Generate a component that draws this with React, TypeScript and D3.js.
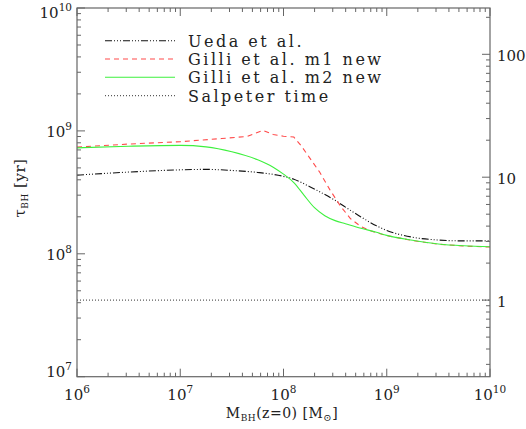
import React from "react";
import * as d3 from "d3";

// Black-hole growth time versus present-day black-hole mass.
// Values are stored as log10(M_BH / M_sun) and log10(tau_BH / yr).

const uedaLogM = [6.0, 6.5, 7.0, 7.25, 7.5, 7.75, 8.0, 8.1, 8.25, 8.35, 8.5, 8.6, 8.75, 8.9, 9.0, 9.25, 9.5, 9.75, 10.0];
const uedaLogTau = [8.64, 8.665, 8.683, 8.687, 8.678, 8.662, 8.63, 8.607, 8.548, 8.505, 8.435, 8.38, 8.3, 8.228, 8.19, 8.135, 8.112, 8.105, 8.105];

const gilliM1LogM = [6.0, 6.5, 7.0, 7.4, 7.65, 7.8, 7.9, 8.0, 8.1, 8.17, 8.25, 8.35, 8.45, 8.55, 8.65, 8.75, 8.85, 9.0, 9.25, 9.5, 9.75, 10.0];
const gilliM1LogTau = [8.868, 8.893, 8.912, 8.938, 8.955, 9.005, 8.97, 8.957, 8.95, 8.88, 8.785, 8.665, 8.52, 8.39, 8.285, 8.222, 8.185, 8.148, 8.108, 8.078, 8.063, 8.055];

const gilliM2LogM = [6.0, 6.5, 7.0, 7.25, 7.5, 7.75, 7.9, 8.0, 8.1, 8.2, 8.3, 8.4, 8.5, 8.6, 8.75, 8.9, 9.0, 9.25, 9.5, 9.75, 10.0];
const gilliM2LogTau = [8.862, 8.875, 8.882, 8.87, 8.83, 8.765, 8.705, 8.648, 8.58, 8.475, 8.375, 8.31, 8.27, 8.245, 8.208, 8.175, 8.15, 8.11, 8.08, 8.065, 8.057];

// Salpeter e-folding time in years
const salpeterTime = 4.2e7;

const xDomain = [1e6, 1e10];
const yDomain = [1e7, 1e10];
const xTickExponents = [6, 7, 8, 9, 10];
const yTickExponents = [7, 8, 9, 10];
const rightTickLabels = ["1", "10", "100"];
const legendLabels = ["Ueda et al.", "Gilli et al. m1 new", "Gilli et al. m2 new", "Salpeter time"];

const W = 526;
const H = 429;
const L = 77;
const R = 490;
const T = 8;
const B = 376.7;

const AXIS = "#666";
const INK = "#222";
const SERIF = "'DejaVu Serif', serif";

const x = d3.scaleLog().domain(xDomain).range([L, R]);
const y = d3.scaleLog().domain(yDomain).range([B, T]);
const yRight = d3
  .scaleLog()
  .domain([yDomain[0] / salpeterTime, yDomain[1] / salpeterTime])
  .range([B, T]);

type Series = {
  name: string;
  logM: number[];
  logTau: number[];
  color: string;
  dash: string;
  curve: d3.CurveFactory;
};

const series: Series[] = [
  { name: legendLabels[0], logM: uedaLogM, logTau: uedaLogTau, color: "#111", dash: "7,2,1,2,1,2,1,2", curve: d3.curveMonotoneX },
  { name: legendLabels[1], logM: gilliM1LogM, logTau: gilliM1LogTau, color: "#ff4a4a", dash: "5,4", curve: d3.curveLinear },
  { name: legendLabels[2], logM: gilliM2LogM, logTau: gilliM2LogTau, color: "#3ef03e", dash: "none", curve: d3.curveMonotoneX },
];

const isDecade = (v: number) => Math.abs(Math.log10(v) - Math.round(Math.log10(v))) < 1e-6;

function minorTicks(lo: number, hi: number): number[] {
  const out: number[] = [];
  for (let e = Math.floor(Math.log10(lo)); e <= Math.ceil(Math.log10(hi)); e++) {
    for (let k = 1; k <= 9; k++) {
      const v = k * Math.pow(10, e);
      if (v >= lo * 0.9999 && v <= hi * 1.0001) out.push(v);
    }
  }
  return out;
}

function Pow({ exp, ...rest }: { exp: number } & React.SVGProps<SVGTextElement>) {
  return (
    <text {...rest} fontFamily={SERIF} fill={INK} fontSize={15}>
      <tspan>10</tspan>
      <tspan fontSize={10.5} dy={-7}>
        {exp}
      </tspan>
    </text>
  );
}

export default function App() {
  const xTicks = minorTicks(xDomain[0], xDomain[1]);
  const yTicks = minorTicks(yDomain[0], yDomain[1]);
  const rTicks = minorTicks(yRight.domain()[0], yRight.domain()[1]);

  const salY = y(salpeterTime);
  const legendY = [40.7, 59, 77.3, 95.7];

  return (
    <svg
      width={W}
      height={H}
      style={{ position: "absolute", left: 0, top: 0, background: "#fff" }}
    >
      {/* data curves */}
      {series.map((s) => {
        const pts = s.logM.map((m, i) => [Math.pow(10, m), Math.pow(10, s.logTau[i])] as [number, number]);
        const path = d3
          .line<[number, number]>()
          .x((d) => x(d[0]))
          .y((d) => y(d[1]))
          .curve(s.curve)(pts);
        return (
          <path
            key={s.name}
            d={path ?? ""}
            fill="none"
            stroke={s.color}
            strokeWidth={1.1}
            strokeDasharray={s.dash}
          />
        );
      })}
      <line x1={L} x2={R} y1={salY} y2={salY} stroke="#333" strokeWidth={1} strokeDasharray="1,2" />

      {/* frame */}
      <rect x={L} y={T} width={R - L} height={B - T} fill="none" stroke={AXIS} strokeWidth={1.2} />

      {/* bottom and top ticks */}
      {xTicks.map((v, i) => {
        const len = isDecade(v) ? 8 : 4;
        const px = x(v);
        return (
          <g key={"x" + i} stroke={AXIS} strokeWidth={1}>
            <line x1={px} x2={px} y1={B} y2={B - len} />
            <line x1={px} x2={px} y1={T} y2={T + len} />
          </g>
        );
      })}
      {/* left ticks */}
      {yTicks.map((v, i) => {
        const len = isDecade(v) ? 8 : 4;
        const py = y(v);
        return <line key={"y" + i} x1={L} x2={L + len} y1={py} y2={py} stroke={AXIS} strokeWidth={1} />;
      })}
      {/* right ticks, in units of the Salpeter time */}
      {rTicks.map((v, i) => {
        const len = isDecade(v) ? 8 : 4;
        const py = yRight(v);
        return <line key={"r" + i} x1={R} x2={R - len} y1={py} y2={py} stroke={AXIS} strokeWidth={1} />;
      })}

      {/* tick labels */}
      {xTickExponents.map((e) => (
        <Pow key={"xl" + e} exp={e} x={x(Math.pow(10, e))} y={400} textAnchor="middle" />
      ))}
      {yTickExponents.map((e) => (
        <Pow
          key={"yl" + e}
          exp={e}
          x={72}
          y={Math.min(377, Math.max(18, y(Math.pow(10, e)) + 6))}
          textAnchor="end"
        />
      ))}
      {rightTickLabels.map((t) => (
        <text
          key={"rl" + t}
          x={497}
          y={yRight(+t) + 6.5}
          fontFamily={SERIF}
          fontSize={15}
          fill={INK}
        >
          {t}
        </text>
      ))}

      {/* axis titles */}
      <text x={282} y={418} textAnchor="middle" fontFamily={SERIF} fontSize={14} fill={INK} letterSpacing={0.5}>
        <tspan>M</tspan>
        <tspan fontSize={9} dy={3}>BH</tspan>
        <tspan dy={-3}>(z=0)  [M</tspan>
        <tspan fontSize={10} dy={3}>⊙</tspan>
        <tspan dy={-3}>]</tspan>
      </text>
      <text
        transform={`translate(25,188) rotate(-90)`}
        textAnchor="middle"
        fontFamily={SERIF}
        fontSize={15}
        fill={INK}
        letterSpacing={0.5}
      >
        <tspan>τ</tspan>
        <tspan fontSize={9} dy={3}>BH</tspan>
        <tspan dy={-3}> [yr]</tspan>
      </text>

      {/* legend */}
      {legendLabels.map((lab, i) => {
        const ly = legendY[i];
        const s = series[i];
        return (
          <g key={"lg" + i}>
            <line
              x1={105}
              x2={175}
              y1={ly}
              y2={ly}
              stroke={s ? s.color : "#333"}
              strokeWidth={s ? 1.1 : 1}
              strokeDasharray={s ? s.dash : "1,2"}
            />
            <text x={188} y={ly + 6} fontFamily={SERIF} fontSize={16} fill={INK} letterSpacing={2.5}>
              {lab}
            </text>
          </g>
        );
      })}
    </svg>
  );
}
